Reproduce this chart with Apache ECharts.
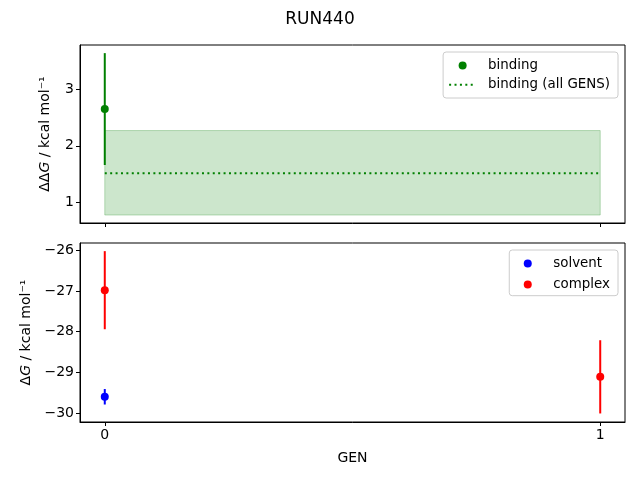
<!DOCTYPE html>
<html><head><meta charset="utf-8">
<script src="https://cdn.jsdelivr.net/npm/echarts@6/dist/echarts.min.js"></script>
<style>html,body{margin:0;padding:0;background:#fff}#c{width:640px;height:480px}</style>
</head><body><div id="c"></div>
<script>
// ---- data ----
const gens = [0, 1];
const xTicks = [0, 1];
const bindingX = [0];
const bindingVal = [2.65];
const bindingErr = [0.99];
const bindingAll = 1.515;
const bindingAllLo = 0.775;
const bindingAllHi = 2.27;
const solventX = [0];
const solventVal = [-29.6];
const solventErr = [0.19];
const complexX = [0, 1];
const complexVal = [-26.98, -29.11];
const complexErr = [0.96, 0.9];
const topYTicks = [1, 2, 3];
const botYTicks = [-30, -29, -28, -27, -26];

const FONT = 'DejaVu Sans';
const FS = 14;
const fmt = v => String(v).replace('-', '\u2212');

function errSeries(name, xs, vals, errs, color, xi, yi) {
  return {
    name: name + '_err', type: 'custom', xAxisIndex: xi, yAxisIndex: yi,
    silent: true, z: 3,
    data: xs.map((x, i) => [x, vals[i] - errs[i], vals[i] + errs[i]]),
    renderItem: (params, api) => {
      const p1 = api.coord([api.value(0), api.value(1)]);
      const p2 = api.coord([api.value(0), api.value(2)]);
      return { type: 'line', shape: { x1: p1[0], y1: p1[1], x2: p2[0], y2: p2[1] },
        style: { stroke: color, lineWidth: 2 } };
    }
  };
}
function ptSeries(name, xs, vals, color, xi, yi) {
  return { name, type: 'scatter', xAxisIndex: xi, yAxisIndex: yi, symbol: 'circle', symbolSize: 8,
    itemStyle: { color, opacity: 1 }, z: 4, data: xs.map((x, i) => [x, vals[i]]) };
}

const xAxisBase = (gi, showLabels) => ({
  type: 'value', gridIndex: gi, min: -0.05, max: 1.05,
  splitLine: { show: false },
  axisLine: { show: true, onZero: false, lineStyle: { color: '#000', width: 1 } },
  axisTick: { show: true, length: 4, customValues: xTicks, lineStyle: { color: '#000' } },
  axisLabel: { show: true, customValues: xTicks, color: showLabels ? '#000' : 'rgba(0,0,0,0)', fontFamily: FONT, fontSize: FS, margin: 6, formatter: fmt },
  name: showLabels ? 'GEN' : '', nameLocation: 'middle', nameGap: 29,
  nameTextStyle: { color: '#000', fontFamily: FONT, fontSize: FS }
});
const yAxisBase = (gi, min, max, ticks, nameRich, gap) => ({
  type: 'value', gridIndex: gi, min, max,
  splitLine: { show: false },
  axisLine: { show: true, onZero: false, lineStyle: { color: '#000', width: 1 } },
  axisTick: { show: true, length: 4, customValues: ticks, lineStyle: { color: '#000' } },
  axisLabel: { customValues: ticks, color: '#000', fontFamily: FONT, fontSize: FS, margin: 6, formatter: fmt },
  name: nameRich, nameLocation: 'middle', nameGap: gap, nameRotate: 90,
  nameTextStyle: { color: '#000', fontFamily: FONT, fontSize: FS,
    rich: { i: { fontStyle: 'italic', fontFamily: FONT, fontSize: FS, color: '#000' },
            a: { fontFamily: FONT, fontSize: FS, color: '#000' } } }
});

const legendCommon = {
  orient: 'vertical', align: 'left', itemWidth: 27, itemHeight: 8,
  backgroundColor: 'rgba(255,255,255,0.8)',
  borderColor: '#cccccc', borderWidth: 1, borderRadius: 3,
  textStyle: { fontFamily: FONT, fontSize: 13.4, color: '#000', padding: [0, 0, 0, 7] }
};

const option = {
  animation: false,
  title: { text: 'RUN440', left: 'center', top: 6, textStyle: { fontFamily: FONT, fontSize: 17, fontWeight: 'normal', color: '#000' } },
  grid: [
    { left: 80, top: 45, width: 545, height: 178, show: true, borderColor: '#000', borderWidth: 1, backgroundColor: 'transparent' },
    { left: 80, top: 243, width: 545, height: 179, show: true, borderColor: '#000', borderWidth: 1, backgroundColor: 'transparent' }
  ],
  xAxis: [xAxisBase(0, false), xAxisBase(1, true)],
  yAxis: [
    yAxisBase(0, 0.634, 3.784, topYTicks, '{a|\u0394\u0394}{i|G}{a| / kcal mol\u207B\u00B9}', 28),
    yAxisBase(1, -30.22, -25.82, botYTicks, '{a|\u0394}{i|G}{a| / kcal mol\u207B\u00B9}', 47)
  ],
  legend: [
    Object.assign({}, legendCommon, { right: 22, top: 52, itemGap: 6.3, padding: [7, 8, 6.7, 5],
      data: [{ name: 'binding', icon: 'circle' },
             { name: 'binding (all GENS)', itemStyle: { opacity: 0 } }] }),
    Object.assign({}, legendCommon, { right: 22, top: 250, itemGap: 8, padding: [7, 8, 4.7, 14.5],
      data: [{ name: 'solvent', icon: 'circle' }, { name: 'complex', icon: 'circle' }] })
  ],
  series: [
    {
      name: 'binding (all GENS)', type: 'line', xAxisIndex: 0, yAxisIndex: 0,
      symbol: 'none', z: 2,
      lineStyle: { color: '#008000', width: 2, type: [2, 3.4] },
      itemStyle: { color: '#008000' },
      data: gens.map(g => [g, bindingAll]),
      markArea: {
        silent: true,
        itemStyle: { color: 'rgba(0,128,0,0.2)', borderColor: 'rgba(0,128,0,0.25)', borderWidth: 1 },
        data: [[{ coord: [gens[0], bindingAllLo] }, { coord: [gens[gens.length - 1], bindingAllHi] }]]
      }
    },
    errSeries('binding', bindingX, bindingVal, bindingErr, '#008000', 0, 0),
    ptSeries('binding', bindingX, bindingVal, '#008000', 0, 0),
    errSeries('solvent', solventX, solventVal, solventErr, '#0000ff', 1, 1),
    ptSeries('solvent', solventX, solventVal, '#0000ff', 1, 1),
    errSeries('complex', complexX, complexVal, complexErr, '#ff0000', 1, 1),
    ptSeries('complex', complexX, complexVal, '#ff0000', 1, 1)
  ]
};
const chart = echarts.init(document.getElementById('c'), null, { renderer: 'canvas' });
chart.setOption(option);
</script>
</body></html>
